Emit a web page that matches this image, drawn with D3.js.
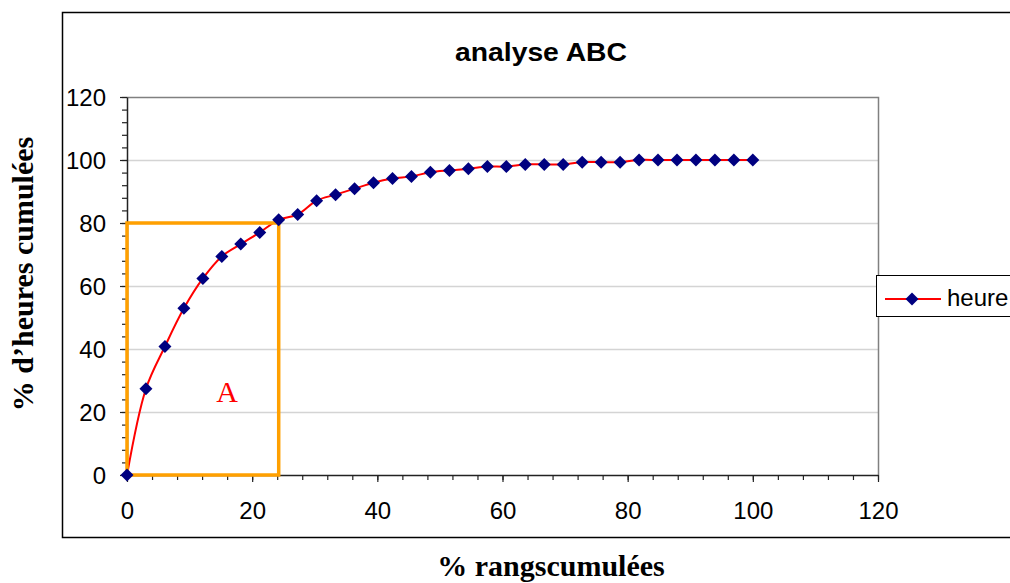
<!DOCTYPE html>
<html>
<head>
<meta charset="utf-8">
<script src="https://cdn.jsdelivr.net/npm/d3@7"></script>
<style>
  html, body { margin: 0; padding: 0; background: #fff; }
  svg { display: block; }
</style>
</head>
<body>
<svg id="chart" width="1010" height="583"></svg>
<script>
// Cumulative share of ranks (%) and cumulative share of hours (%)
const rangsCumules = [0, 3.03, 6.06, 9.09, 12.12, 15.15, 18.18, 21.21, 24.24, 27.27,
  30.30, 33.33, 36.36, 39.39, 42.42, 45.45, 48.48, 51.52, 54.55, 57.58,
  60.61, 63.64, 66.67, 69.70, 72.73, 75.76, 78.79, 81.82, 84.85, 87.88,
  90.91, 93.94, 96.97, 100];
const heuresCumulees = [0, 27.4, 40.8, 52.9, 62.4, 69.4, 73.3, 77.0, 81.0, 82.7,
  87.1, 89.0, 90.9, 92.8, 94.1, 94.8, 96.1, 96.7, 97.2, 97.9,
  97.9, 98.6, 98.6, 98.6, 99.3, 99.3, 99.3, 100, 100, 100,
  100, 100, 100, 100];
const xTicks = [0, 20, 40, 60, 80, 100, 120];
const yTicks = [0, 20, 40, 60, 80, 100, 120];
const seriesName = "heure";
// Class A zone: first ranks covering 80 % of hours
const zoneA_x = [0, 24.24];
const zoneA_y = [0, 80];

const svg = d3.select("#chart");
const sans = "'Liberation Sans', Arial, sans-serif";
const serif = "'Liberation Serif', 'Times New Roman', serif";

const plot = { left: 127, right: 878, top: 97, bottom: 475 };
const x = d3.scaleLinear().domain([0, 120]).range([plot.left, plot.right]);
const y = d3.scaleLinear().domain([0, 120]).range([plot.bottom, plot.top]);

// Outer chart frame (continues past the right edge)
svg.append("rect")
  .attr("x", 62.5).attr("y", 12.5).attr("width", 1000).attr("height", 525)
  .attr("fill", "#fff").attr("stroke", "#000").attr("stroke-width", 1.5);

// Title
svg.append("text")
  .attr("x", 541).attr("y", 61)
  .attr("text-anchor", "middle")
  .attr("font-family", sans).attr("font-weight", "bold").attr("font-size", 26)
  .attr("textLength", 172).attr("lengthAdjust", "spacingAndGlyphs")
  .text("analyse ABC");

// Horizontal gridlines
svg.append("g").selectAll("line")
  .data(yTicks.filter(d => d > 0 && d < 120))
  .join("line")
  .attr("x1", plot.left).attr("x2", plot.right)
  .attr("y1", d => y(d) + 0.5).attr("y2", d => y(d) + 0.5)
  .attr("stroke", "#d4d4d4").attr("stroke-width", 1.5);

// Plot area border (top and right)
svg.append("path")
  .attr("d", `M${plot.left},${y(120) + 0.5}H${plot.right + 0.5}V${plot.bottom}`)
  .attr("fill", "none").attr("stroke", "#808080").attr("stroke-width", 1.5);

// Axes: major and minor ticks
function styleAxis(g) {
  g.select(".domain").attr("stroke", "#222").attr("stroke-width", 1.5);
  g.selectAll(".tick line").attr("stroke", "#222").attr("stroke-width", 1.2);
}
const minorVals = d3.range(0, 121, 4);

svg.append("g")
  .attr("transform", `translate(${plot.left},0)`)
  .call(d3.axisLeft(y).tickValues(minorVals).tickSize(5).tickSizeOuter(0).tickFormat(""))
  .call(styleAxis);
const yAxis = svg.append("g")
  .attr("transform", `translate(${plot.left},0)`)
  .call(d3.axisLeft(y).tickValues(yTicks).tickSize(7).tickSizeOuter(0).tickPadding(14))
  .call(styleAxis);
yAxis.select(".domain").remove();
yAxis.selectAll("text")
  .attr("font-family", sans).attr("font-size", 24).attr("fill", "#000")
  .attr("dy", "0.36em");

svg.append("g")
  .attr("transform", `translate(0,${plot.bottom})`)
  .call(d3.axisBottom(x).tickValues(minorVals).tickSize(5).tickSizeOuter(0).tickFormat(""))
  .call(styleAxis);
const xAxis = svg.append("g")
  .attr("transform", `translate(0,${plot.bottom})`)
  .call(d3.axisBottom(x).tickValues(xTicks).tickSize(7).tickSizeOuter(0).tickPadding(20))
  .call(styleAxis);
xAxis.select(".domain").remove();
xAxis.selectAll("text")
  .attr("font-family", sans).attr("font-size", 24).attr("fill", "#000");

// Axis titles
svg.append("text")
  .attr("transform", "translate(33,274) rotate(-90)")
  .attr("text-anchor", "middle")
  .attr("font-family", serif).attr("font-weight", "bold").attr("font-size", 30)
  .text("% d’heures cumulées");
svg.append("text")
  .attr("x", 551).attr("y", 576)
  .attr("text-anchor", "middle")
  .attr("font-family", serif).attr("font-weight", "bold").attr("font-size", 30)
  .text("% rangscumulées");

// Series
const points = rangsCumules.map((r, i) => ({ r, h: heuresCumulees[i] }));
const line = d3.line()
  .x(d => x(d.r)).y(d => y(d.h))
  .curve(d3.curveCatmullRom.alpha(0.5));
svg.append("path")
  .datum(points)
  .attr("d", line)
  .attr("fill", "none").attr("stroke", "#ff0000").attr("stroke-width", 2);

// Class A zone box
svg.append("rect")
  .attr("x", x(zoneA_x[0])).attr("y", y(zoneA_y[1]))
  .attr("width", x(zoneA_x[1]) - x(zoneA_x[0]))
  .attr("height", y(zoneA_y[0]) - y(zoneA_y[1]))
  .attr("fill", "none").attr("stroke", "#ffa000").attr("stroke-width", 3.5);

const diamond = "M0,-6.5L6.5,0L0,6.5L-6.5,0Z";
svg.append("g").selectAll("path")
  .data(points)
  .join("path")
  .attr("transform", d => `translate(${x(d.r)},${y(d.h)})`)
  .attr("d", diamond)
  .attr("fill", "#000080");

svg.append("text")
  .attr("x", x(16)).attr("y", y(23.2))
  .attr("text-anchor", "middle")
  .attr("font-family", serif).attr("font-size", 30).attr("fill", "#ff0000")
  .text("A");

// Legend
const lg = svg.append("g").attr("transform", "translate(876,275)");
lg.append("rect")
  .attr("x", 0.5).attr("y", 0.5).attr("width", 200).attr("height", 41)
  .attr("fill", "#fff").attr("stroke", "#000").attr("stroke-width", 1);
lg.append("line")
  .attr("x1", 9).attr("x2", 65).attr("y1", 24).attr("y2", 24)
  .attr("stroke", "#ff0000").attr("stroke-width", 2);
lg.append("path")
  .attr("transform", "translate(36,24)")
  .attr("d", diamond).attr("fill", "#000080");
lg.append("text")
  .attr("x", 71).attr("y", 31)
  .attr("font-family", sans).attr("font-size", 24).attr("fill", "#000")
  .text(seriesName);
</script>
</body>
</html>
